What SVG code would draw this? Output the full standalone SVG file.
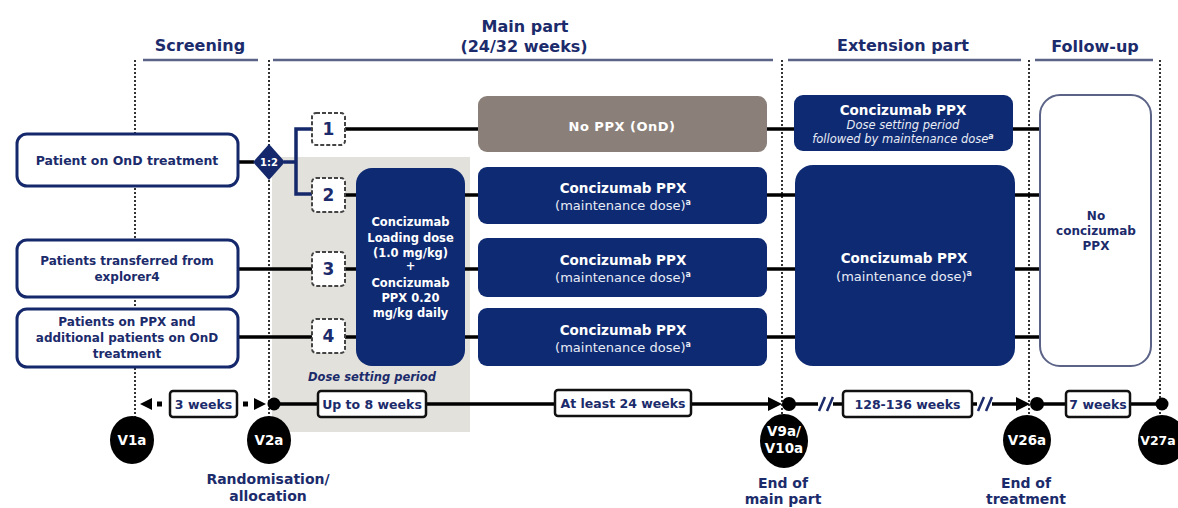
<svg xmlns="http://www.w3.org/2000/svg" width="1178" height="508" viewBox="0 0 1178 508">
<style>
text{font-family:"DejaVu Sans",Verdana,sans-serif;}
.hdr{font-size:16px;font-weight:bold;fill:#1b2b6b;text-anchor:middle;}
.hline{stroke:#5b6387;stroke-width:2.5;fill:none;}
.vdash{stroke:#333;stroke-width:2;stroke-dasharray:2 2;fill:none;}
.lbox{fill:#fff;stroke:#14286b;stroke-width:3;}
.ltxt{font-size:12px;font-weight:bold;fill:#1b2b6b;text-anchor:middle;}
.nbox{fill:#fff;stroke:#444;stroke-width:2;stroke-dasharray:4 2;}
.ntxt{font-size:17px;font-weight:bold;fill:#1b2b6b;text-anchor:middle;}
.navy{fill:#0e2a72;}
.wb{font-size:13.5px;font-weight:bold;fill:#fff;text-anchor:middle;}
.wr{font-size:13px;fill:#e8ecf6;text-anchor:middle;}
.wi{font-size:11.5px;font-style:italic;fill:#e8ecf6;text-anchor:middle;}
.sup{font-size:8px;font-weight:bold;}
.ld{font-size:11.5px;font-weight:bold;fill:#fff;text-anchor:middle;}
.conn{stroke:#000;stroke-width:3.5;fill:none;}
.tbox{fill:#fff;stroke:#111;stroke-width:2.5;}
.ttxt{font-size:12.5px;font-weight:bold;fill:#1b2b6b;text-anchor:middle;}
.vc{fill:#000;}
.vt{font-size:13.5px;font-weight:bold;fill:#fff;text-anchor:middle;}
.btxt{font-size:14px;font-weight:bold;fill:#1b2b6b;text-anchor:middle;}
</style>
<rect width="1178" height="508" fill="#fff"/>

<!-- grey dose setting background -->
<rect x="272" y="157" width="198" height="275" fill="#e3e1dc"/>

<!-- headers -->
<g id="headers">
<text class="hdr" x="200" y="51">Screening</text>
<text class="hdr" x="525" y="32">Main part</text>
<text class="hdr" x="524" y="52">(24/32 weeks)</text>
<text class="hdr" x="903" y="51">Extension part</text>
<text class="hdr" x="1095" y="52">Follow-up</text>
<path class="hline" d="M143 60H258M273 60H773M788 60H1021M1035 60H1153"/>
</g>

<!-- dotted vertical separators -->
<g id="separators">
<path class="vdash" d="M135 60V420M269 60V420M782 60V418M1029 60V418M1160 60V418"/>
</g>

<!-- connectors -->
<g id="connectors">
<path class="conn" d="M239 162H254"/>
<path d="M284 162H296M312 129H296V194H312" stroke="#14286b" stroke-width="3.5" fill="none"/>
<path class="conn" d="M345 129H478M767 129H794M1013 129H1040"/>
<path class="conn" d="M345 195H356M465 195H478M767 195H795M1015 195H1040"/>
<path class="conn" d="M239 269H312M345 269H356M465 269H478M767 269H795M1015 269H1040"/>
<path class="conn" d="M239 337H312M345 337H356M465 337H478M767 337H795M1015 337H1040"/>
</g>

<!-- left population boxes -->
<g id="pop1"><rect class="lbox" x="17" y="134" width="221" height="52" rx="10"/><text class="ltxt" x="127" y="165" style="font-size:12.5px">Patient on OnD treatment</text></g>
<g id="pop2"><rect class="lbox" x="17" y="240" width="221" height="57" rx="10"/><text class="ltxt" x="127" y="265">Patients transferred from</text><text class="ltxt" x="127" y="281">explorer4</text></g>
<g id="pop3"><rect class="lbox" x="17" y="309" width="221" height="58" rx="10"/><text class="ltxt" x="127" y="326">Patients on PPX and</text><text class="ltxt" x="127" y="342">additional patients on OnD</text><text class="ltxt" x="127" y="358">treatment</text></g>

<!-- randomisation diamond -->
<g id="rand"><path d="M269 144L285 162L269 180L253 162z" fill="#14286b"/><text x="269" y="166" style="font-size:10px;font-weight:bold;fill:#fff;text-anchor:middle">1:2</text></g>

<!-- arm numbers -->
<g id="arm1"><rect class="nbox" x="312" y="113" width="33" height="32" rx="4"/><text class="ntxt" x="328.5" y="135">1</text></g>
<g id="arm2"><rect class="nbox" x="312" y="178" width="33" height="34" rx="4"/><text class="ntxt" x="328.5" y="201">2</text></g>
<g id="arm3"><rect class="nbox" x="312" y="252" width="33" height="34" rx="4"/><text class="ntxt" x="328.5" y="275">3</text></g>
<g id="arm4"><rect class="nbox" x="312" y="319" width="33" height="34" rx="4"/><text class="ntxt" x="328.5" y="342">4</text></g>

<!-- loading dose -->
<g id="loading">
<rect class="navy" x="356" y="168" width="109" height="198" rx="16"/>
<text class="ld" x="410.5" y="226">Concizumab</text>
<text class="ld" x="410.5" y="242">Loading dose</text>
<text class="ld" x="410.5" y="257">(1.0 mg/kg)</text>
<text class="ld" x="410.5" y="270">+</text>
<text class="ld" x="410.5" y="287">Concizumab</text>
<text class="ld" x="410.5" y="302">PPX 0.20</text>
<text class="ld" x="410.5" y="317">mg/kg daily</text>
</g>
<text x="372" y="381" style="font-size:11.5px;font-weight:bold;font-style:italic;fill:#1b2b6b;text-anchor:middle">Dose setting period</text>

<!-- main part boxes -->
<g id="main1"><rect x="478" y="96" width="289" height="56" rx="9" fill="#8b8079"/><text x="622" y="131" style="font-size:13px;font-weight:bold;fill:#fff;text-anchor:middle;letter-spacing:0.5px">No PPX (OnD)</text></g>
<g id="main2"><rect class="navy" x="478" y="167" width="289" height="57" rx="9"/><text class="wb" x="623" y="193">Concizumab PPX</text><text class="wr" x="623" y="210">(maintenance dose)<tspan class="sup" dy="-5">a</tspan></text></g>
<g id="main3"><rect class="navy" x="478" y="238" width="289" height="59" rx="9"/><text class="wb" x="623" y="265">Concizumab PPX</text><text class="wr" x="623" y="282">(maintenance dose)<tspan class="sup" dy="-5">a</tspan></text></g>
<g id="main4"><rect class="navy" x="478" y="308" width="289" height="58" rx="9"/><text class="wb" x="623" y="335">Concizumab PPX</text><text class="wr" x="623" y="352">(maintenance dose)<tspan class="sup" dy="-5">a</tspan></text></g>

<!-- extension boxes -->
<g id="ext1"><rect class="navy" x="794" y="95" width="219" height="56" rx="9"/><text class="wb" x="903" y="115">Concizumab PPX</text><text class="wi" x="903" y="129">Dose setting period</text><text class="wi" x="903" y="143">followed by maintenance dose<tspan class="sup" dy="-4">a</tspan></text></g>
<g id="ext2"><rect class="navy" x="795" y="165" width="220" height="201" rx="18"/><text class="wb" x="904" y="263">Concizumab PPX</text><text class="wr" x="904" y="281">(maintenance dose)<tspan class="sup" dy="-5">a</tspan></text></g>

<!-- follow-up box -->
<g id="follow"><rect x="1040" y="95" width="111" height="271" rx="20" fill="#fff" stroke="#5b6387" stroke-width="2"/><text class="ltxt" x="1096" y="220">No</text><text class="ltxt" x="1096" y="235">concizumab</text><text class="ltxt" x="1096" y="250">PPX</text></g>

<!-- timeline -->
<g id="timeline">
<path d="M140 404L152 398V410z" fill="#000"/>
<rect x="157" y="401.5" width="5" height="5" fill="#000"/>
<rect x="243" y="401.5" width="5" height="5" fill="#000"/>
<path d="M266 404L254 398V410z" fill="#000"/>
<path class="conn" d="M274 404H770"/>
<path d="M782 404L768 397V411z" fill="#000"/>
<path class="conn" d="M788 404H818"/>
<path d="M819 411L825 397M827 411L833 397" stroke="#1b2b6b" stroke-width="2.5"/>
<path class="conn" d="M833 404H843M972 404H977"/>
<path d="M978 411L984 397M986 411L992 397" stroke="#1b2b6b" stroke-width="2.5"/>
<path class="conn" d="M992 404H1018"/>
<path d="M1030 404L1016 397V411z" fill="#000"/>
<path class="conn" d="M1037 404H1162"/>
<circle cx="274" cy="404" r="6.5" fill="#000"/>
<circle cx="789" cy="404" r="7" fill="#000"/>
<circle cx="1037" cy="404" r="7" fill="#000"/>
<circle cx="1162" cy="404" r="6.5" fill="#000"/>
</g>
<g id="d1"><rect class="tbox" x="170" y="391" width="67" height="26" rx="3"/><text class="ttxt" x="203.5" y="409">3 weeks</text></g>
<g id="d2"><rect class="tbox" x="318" y="391" width="108" height="26" rx="3"/><text class="ttxt" x="372" y="409">Up to 8 weeks</text></g>
<g id="d3"><rect class="tbox" x="555" y="390" width="136" height="26" rx="3"/><text class="ttxt" x="623" y="408">At least 24 weeks</text></g>
<g id="d4"><rect class="tbox" x="843" y="391" width="129" height="26" rx="3"/><text class="ttxt" x="907.5" y="409">128-136 weeks</text></g>
<g id="d5"><rect class="tbox" x="1066" y="391" width="64" height="26" rx="3"/><text class="ttxt" x="1098" y="409">7 weeks</text></g>

<!-- visits -->
<g id="v1a"><ellipse class="vc" cx="132" cy="440" rx="22" ry="24"/><text class="vt" x="132" y="445">V1a</text></g>
<g id="v2a"><ellipse class="vc" cx="269" cy="440" rx="22" ry="24"/><text class="vt" x="269" y="445">V2a</text></g>
<g id="v9a"><ellipse class="vc" cx="784" cy="441" rx="24" ry="27"/><text class="vt" x="784" y="436">V9a/</text><text class="vt" x="784" y="453">V10a</text></g>
<g id="v26a"><ellipse class="vc" cx="1027" cy="440" rx="24" ry="25"/><text class="vt" x="1027" y="445">V26a</text></g>
<g id="v27a"><ellipse class="vc" cx="1162" cy="440" rx="24" ry="25"/><text class="vt" x="1158" y="445" style="font-size:12.5px">V27a</text></g>

<g id="labels">
<text class="btxt" x="268" y="484">Randomisation/</text>
<text class="btxt" x="268" y="501">allocation</text>
<text class="btxt" x="783" y="488">End of</text>
<text class="btxt" x="783" y="504">main part</text>
<text class="btxt" x="1026" y="488">End of</text>
<text class="btxt" x="1026" y="504">treatment</text>
</g>
</svg>
